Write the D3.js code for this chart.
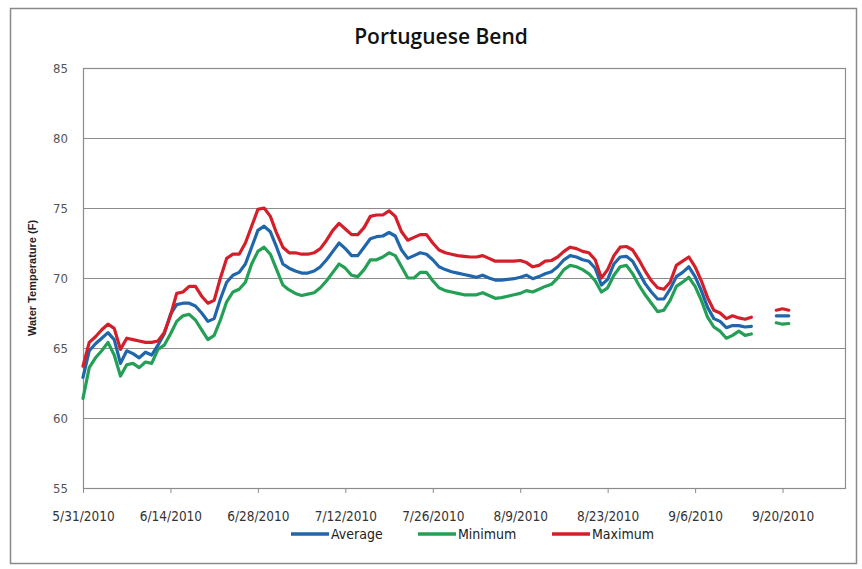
<!DOCTYPE html>
<html><head><meta charset="utf-8">
<script src="https://cdn.jsdelivr.net/npm/d3@7"></script>
<style>
html,body{margin:0;padding:0;background:#fff;}
svg{display:block;}
</style></head>
<body>
<svg id="chart" width="862" height="569"></svg>
<script>
// ---- data ----
const title = "Portuguese Bend";
const yTitle = "Water Temperature (F)";
const startDateStr = "5/31/2010";
const endDateStr = "9/30/2010";
const tickLabels = ["5/31/2010","6/14/2010","6/28/2010","7/12/2010","7/26/2010","8/9/2010","8/23/2010","9/6/2010","9/20/2010"];
const yTicks = [55,60,65,70,75,80,85];
const seriesNames = ["Average","Minimum","Maximum"];
// daily values from 5/31/2010 (null = no data)
const average = [62.9,64.8,65.3,65.7,66.1,65.6,63.9,64.8,64.6,64.3,64.7,64.5,65.2,66.0,67.4,68.1,68.2,68.2,68.0,67.5,
66.9,67.1,68.5,69.7,70.2,70.4,71.0,72.2,73.4,73.7,73.3,72.2,71.0,70.7,70.5,70.35,70.35,70.5,70.8,71.3,
71.9,72.5,72.1,71.6,71.6,72.2,72.8,72.95,73.0,73.25,73.0,72.0,71.4,71.6,71.8,71.7,71.3,70.8,70.6,70.45,
70.35,70.25,70.15,70.05,70.2,70.0,69.85,69.85,69.9,69.95,70.05,70.2,69.95,70.1,70.3,70.45,70.8,71.3,71.6,71.5,
71.3,71.2,70.7,69.5,69.9,71.0,71.5,71.55,71.2,70.4,69.6,69.0,68.5,68.5,69.2,70.1,70.4,70.8,70.1,69.1,
67.9,67.1,66.9,66.45,66.6,66.6,66.5,66.55,null,null,null,67.3,67.3,67.3];
const minimum = [61.4,63.6,64.3,64.8,65.4,64.5,63.0,63.8,63.9,63.6,64.0,63.9,64.9,65.2,66.0,66.9,67.3,67.4,67.0,66.3,
65.6,65.9,67.0,68.3,69.0,69.2,69.7,71.0,71.9,72.2,71.7,70.6,69.5,69.15,68.9,68.75,68.85,68.95,69.3,69.8,
70.4,71.0,70.7,70.2,70.1,70.6,71.3,71.3,71.5,71.8,71.6,70.8,70.0,70.0,70.4,70.4,69.8,69.3,69.1,69.0,
68.9,68.8,68.8,68.8,68.95,68.75,68.55,68.6,68.7,68.8,68.9,69.1,69.0,69.2,69.4,69.55,70.0,70.6,70.9,70.8,
70.6,70.3,69.8,69.0,69.3,70.2,70.8,70.9,70.3,69.5,68.8,68.2,67.6,67.7,68.4,69.4,69.7,70.05,69.4,68.4,
67.2,66.5,66.2,65.7,65.9,66.2,65.9,66.0,null,null,null,66.8,66.7,66.75];
const maximum = [63.7,65.4,65.8,66.3,66.7,66.4,64.9,65.7,65.6,65.5,65.4,65.4,65.5,66.1,67.3,68.9,69.0,69.4,69.4,68.7,
68.2,68.4,70.0,71.4,71.7,71.7,72.5,73.7,74.9,75.0,74.4,73.2,72.2,71.8,71.8,71.7,71.7,71.8,72.1,72.7,
73.4,73.9,73.5,73.1,73.1,73.6,74.4,74.5,74.5,74.8,74.4,73.3,72.7,72.9,73.1,73.1,72.5,72.0,71.8,71.7,
71.6,71.55,71.5,71.5,71.6,71.4,71.2,71.2,71.2,71.2,71.25,71.1,70.8,70.9,71.2,71.25,71.5,71.9,72.2,72.1,
71.9,71.8,71.3,70.0,70.6,71.6,72.2,72.25,72.0,71.3,70.5,69.8,69.3,69.2,69.7,70.9,71.2,71.5,70.8,69.8,
68.6,67.7,67.5,67.1,67.3,67.15,67.05,67.2,null,null,null,67.7,67.8,67.7];
const colors = {Average:"#2066ab", Minimum:"#23a055", Maximum:"#d41f2a"};

// ---- chart ----
const svg = d3.select("#chart");
const parse = d3.timeParse("%m/%d/%Y");
const start = parse(startDateStr), end = parse(endDateStr);
const margin = {left:83, right:845, top:68, bottom:488};

const x = d3.scaleTime().domain([start, end]).range([margin.left, margin.right]);
const y = d3.scaleLinear().domain([55,85]).range([margin.bottom, margin.top]);

// outer frame
svg.append("rect").attr("x",10.5).attr("y",8.5).attr("width",846).attr("height",555)
  .attr("fill","none").attr("stroke","#8a8a8a").attr("stroke-width",1.5);

// title
svg.append("text").attr("x",441).attr("y",44).attr("text-anchor","middle")
  .attr("font-family","'Open Sans', sans-serif").attr("font-weight","600").attr("font-size",21)
  .attr("fill","#111").text(title);

// gridlines
svg.append("g").selectAll("line").data(yTicks).join("line")
  .attr("x1",margin.left).attr("x2",margin.right)
  .attr("y1",d=>Math.round(y(d))+0.5).attr("y2",d=>Math.round(y(d))+0.5)
  .attr("stroke","#8c8c8c").attr("stroke-width",1.2);

// plot border
svg.append("rect").attr("x",margin.left+0.5).attr("y",margin.top+0.5)
  .attr("width",margin.right-margin.left).attr("height",margin.bottom-margin.top)
  .attr("fill","none").attr("stroke","#8c8c8c").attr("stroke-width",1.2);

// y axis
const yAxis = d3.axisLeft(y).tickValues(yTicks).tickSize(0).tickPadding(15).tickFormat(d3.format("d"));
const gy = svg.append("g").attr("transform",`translate(${margin.left},0)`).call(yAxis);
gy.select(".domain").remove();
gy.selectAll("text").attr("font-family","'DejaVu Sans Condensed', sans-serif").attr("font-size",13).attr("fill","#555");

// x axis
const tickDates = tickLabels.map(parse);
const xAxis = d3.axisBottom(x).tickValues(tickDates).tickSize(5).tickPadding(18)
  .tickFormat((d,i)=>tickLabels[i]);
const gx = svg.append("g").attr("transform",`translate(0,${margin.bottom})`).call(xAxis);
gx.select(".domain").remove();
gx.selectAll(".tick line").attr("stroke","#8c8c8c");
gx.selectAll("text").attr("font-family","'DejaVu Sans Condensed', sans-serif").attr("font-size",13.5).attr("fill","#333");

// y title
svg.append("text").attr("transform",`translate(36,${(margin.top+margin.bottom)/2}) rotate(-90)`)
  .attr("text-anchor","middle").attr("font-family","'Liberation Sans', Arial, sans-serif")
  .attr("font-weight","bold").attr("font-size",11).attr("fill","#222").text(yTitle);

// lines
const dates = average.map((_,i)=>d3.timeDay.offset(start,i));
const seriesData = {Average:average, Minimum:minimum, Maximum:maximum};
const line = d3.line().defined(d=>d.v!=null).x(d=>x(d.date)).y(d=>y(d.v));
["Minimum","Average","Maximum"].forEach(name=>{
  const pts = seriesData[name].map((v,i)=>({date:dates[i], v}));
  svg.append("path").datum(pts).attr("d",line).attr("fill","none")
    .attr("stroke",colors[name]).attr("stroke-width",3.2).attr("stroke-linejoin","round").attr("stroke-linecap","round");
});

// legend
const legendX = [291,418,552];
const lg = svg.append("g");
seriesNames.forEach((name,i)=>{
  const g = lg.append("g").attr("transform",`translate(${legendX[i]},534)`);
  g.append("line").attr("x1",0).attr("x2",38).attr("y1",0).attr("y2",0)
    .attr("stroke",colors[name]).attr("stroke-width",3.5);
  g.append("text").attr("x",40).attr("y",5).attr("font-family","'DejaVu Sans Condensed', sans-serif")
    .attr("font-size",14).attr("fill","#222").text(name);
});
</script>
</body></html>
